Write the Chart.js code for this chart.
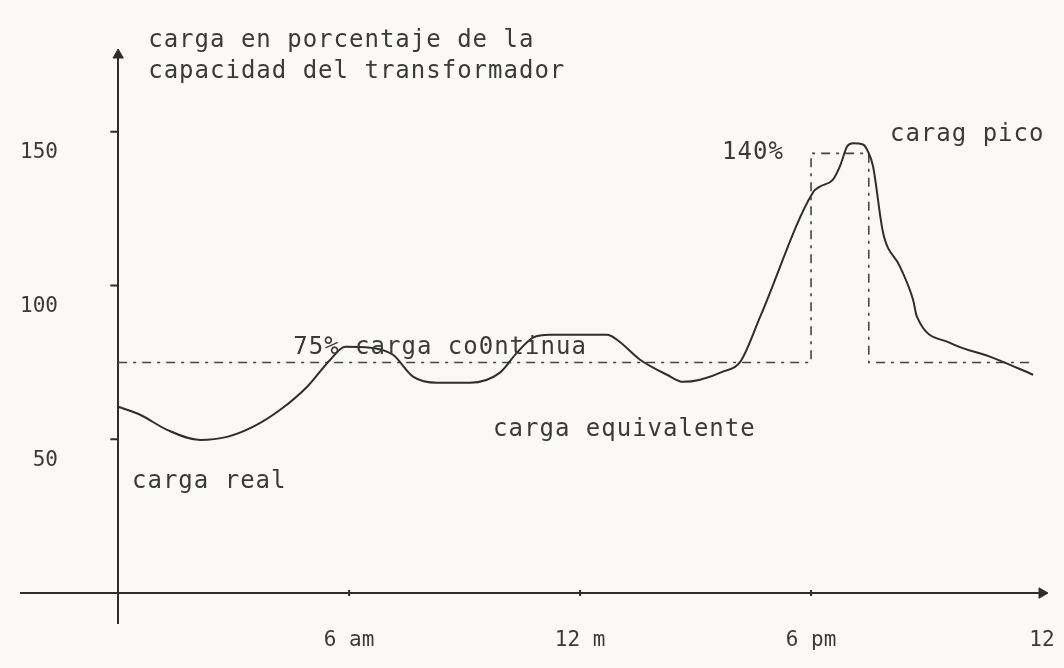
<!DOCTYPE html>
<html>
<head>
<meta charset="utf-8">
<script src="https://cdn.jsdelivr.net/npm/chart.js@4"></script>
<style>
  html, body { margin: 0; padding: 0; background: #faf9f6; }
  canvas { display: block; }
</style>
</head>
<body>
<canvas id="loadChart" width="1064" height="668"></canvas>
<script>
// carga real: hora del dia vs % de la capacidad del transformador
const hours = [0, 0.57, 1.27, 2.13, 2.83, 3.51, 4.21, 4.91, 5.51, 5.9, 6.55, 7.14, 7.66, 8.29, 9.14, 9.92,
    10.36, 10.78, 11.22, 12.7, 12.96, 13.56, 14.26, 14.68, 15.12, 15.71, 16.16, 16.68, 18.05, 18.23,
    18.57, 18.75, 18.94, 19.09, 19.35, 19.48, 19.61, 19.87, 20.31, 20.65, 20.75, 21.61, 22.73, 23.77];
const load = [60.6, 58, 53.1, 49.8, 50.8, 54.1, 59.6, 67.1, 75.9, 80.1, 79.8, 77.5, 70.4, 68.4, 68.4, 71.7,
    78.2, 83.1, 84, 84, 82.4, 75.9, 71, 68.7, 69.4, 72, 75.2, 89.9, 130.3, 132.2,
    134.5, 138.8, 145.3, 146.3, 145.9, 143.6, 138.8, 117.3, 106.2, 95.4, 89.9, 81.4, 76.5, 71];

// carga equivalente (75% continua + pico)
const eqHours = [0, 18, 18, 19.5, 19.5, 23.8];
const eqLoad = [75, 75, 143, 143, 75, 75];

// ejes
const xTicks = [0, 6, 12, 18, 24];
const xTickLabels = ['', '6 am', '12 m', '6 pm', '12'];
const yTicks = [0, 50, 100, 150];
const yTickLabels = ['', '50', '100', '150'];

const ink = '#2e2e2e';

// texts written on the drawing, placed in data units
const notes = [
    { text: 'carga en porcentaje de la', x: 0.78, y: 179.5 },
    { text: 'capacidad del transformador', x: 0.78, y: 169.4 },
    { text: '140%', x: 15.69, y: 143.3 },
    { text: 'carag pico', x: 20.05, y: 149.2 },
    { text: '75% carga co0ntinua', x: 4.55, y: 79.8 },
    { text: 'carga equivalente', x: 9.74, y: 53.1 },
    { text: 'carga real', x: 0.36, y: 36.2 }
];

const notesPlugin = {
    id: 'notes',
    afterDatasetsDraw(chart) {
        const { ctx, scales: { x, y } } = chart;
        ctx.save();
        ctx.font = '24px "DejaVu Sans Mono"';
        ctx.letterSpacing = '1px';
        ctx.fillStyle = '#3a3a3a';
        ctx.textBaseline = 'middle';
        notes.forEach(n => ctx.fillText(n.text, x.getPixelForValue(n.x), y.getPixelForValue(n.y)));
        ctx.restore();
    }
};

const zeroOnly = (ctx) => ctx.tick && ctx.tick.value === 0 ? ink : 'rgba(0,0,0,0)';

const ctx = document.getElementById('loadChart').getContext('2d');
const loadChart = new Chart(ctx, {
    type: 'line',
    data: {
        datasets: [
            {
                label: 'carga real',
                data: hours.map((h, i) => ({ x: h, y: load[i] })),
                borderColor: ink,
                borderWidth: 2,
                pointRadius: 0,
                cubicInterpolationMode: 'monotone'
            },
            {
                label: 'carga equivalente',
                data: eqHours.map((h, i) => ({ x: h, y: eqLoad[i] })),
                borderColor: '#444',
                borderWidth: 1.6,
                borderDash: [9, 6, 3, 6],
                pointRadius: 0,
                tension: 0
            },
            {
                label: 'flechas',
                data: [{ x: 0, y: 175 }, { x: 24, y: 0 }],
                showLine: false,
                pointStyle: 'triangle',
                rotation: [0, 90],
                pointRadius: 6,
                backgroundColor: ink,
                borderColor: ink,
                borderWidth: 1,
                clip: false
            },
            {
                label: 'marcas y',
                data: yTicks.slice(1).map(v => ({ x: -0.1, y: v })),
                showLine: false,
                pointStyle: 'line',
                pointRadius: 4,
                borderColor: ink,
                borderWidth: 2
            },
            {
                label: 'marcas x',
                data: xTicks.slice(1, 4).map(v => ({ x: v, y: 0 })),
                showLine: false,
                pointStyle: 'line',
                rotation: 90,
                pointRadius: 3,
                borderColor: ink,
                borderWidth: 2
            }
        ]
    },
    options: {
        responsive: false,
        animation: false,
        layout: {
            padding: { left: 20, right: 22, top: 55, bottom: 11 }
        },
        plugins: {
            legend: { display: false },
            tooltip: { enabled: false }
        },
        scales: {
            x: {
                type: 'linear',
                min: -2.55,
                max: 24,
                afterBuildTicks: (scale) => { scale.ticks = xTicks.map(v => ({ value: v })); },
                border: { display: false },
                grid: { color: zeroOnly, lineWidth: 2, drawTicks: false },
                ticks: {
                    padding: 4,
                    color: '#3a3a3a',
                    font: { family: 'DejaVu Sans Mono', size: 21 },
                    maxRotation: 0,
                    callback: (v) => xTickLabels[xTicks.indexOf(v)]
                }
            },
            y: {
                type: 'linear',
                min: -10,
                max: 175,
                afterBuildTicks: (scale) => { scale.ticks = yTicks.map(v => ({ value: v })); },
                border: { display: false },
                grid: { color: zeroOnly, lineWidth: 2, drawTicks: false },
                ticks: {
                    mirror: true,
                    padding: 0,
                    labelOffset: 21,
                    color: '#3a3a3a',
                    font: { family: 'DejaVu Sans Mono', size: 21 },
                    callback: (v) => yTickLabels[yTicks.indexOf(v)].padStart(3)
                }
            }
        }
    },
    plugins: [notesPlugin]
});
</script>
</body>
</html>
